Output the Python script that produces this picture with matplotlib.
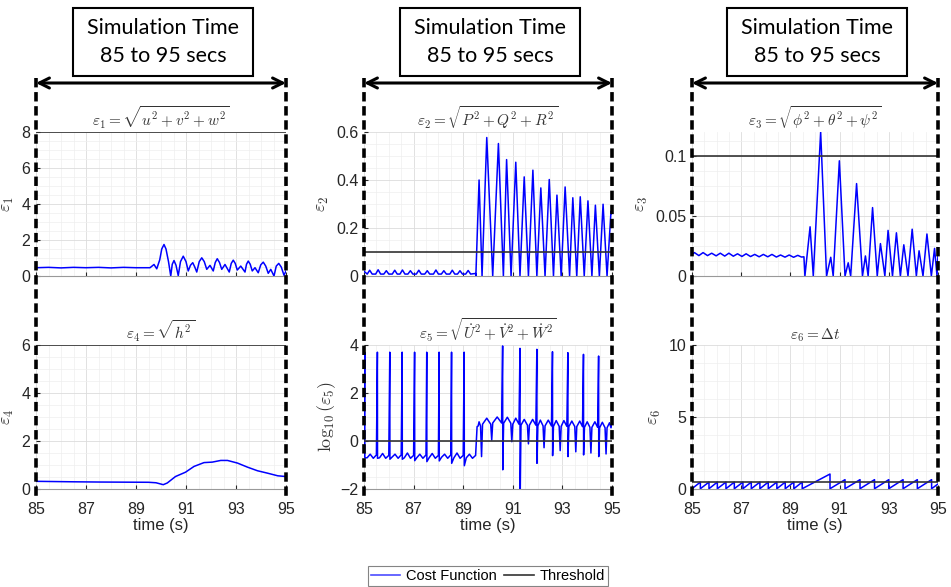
import numpy as np
import matplotlib
matplotlib.use("Agg")
import matplotlib.pyplot as plt
from matplotlib.lines import Line2D
from matplotlib.patches import Rectangle
from matplotlib.ticker import AutoMinorLocator

plt.rcParams['font.family'] = ['Liberation Sans', 'DejaVu Sans']
plt.rcParams['mathtext.fontset'] = 'cm'

# ---- data (time in s) ----
# eps1: translational error
t1 = [85.0, 85.5, 86.0, 86.5, 87.0, 87.5, 88.0, 88.5, 89.0, 89.56, 89.72, 89.83,
      89.95, 90.03, 90.12, 90.2, 90.3, 90.39, 90.45, 90.52, 90.6, 90.69, 90.78,
      90.89, 91.0, 91.09, 91.18, 91.27, 91.35, 91.43, 91.53, 91.63, 91.73, 91.83,
      91.96, 92.09, 92.17, 92.25, 92.34, 92.43, 92.56, 92.73, 92.81, 92.89, 92.97,
      93.05, 93.19, 93.36, 93.42, 93.49, 93.57, 93.65, 93.76, 93.89, 93.99, 94.09,
      94.19, 94.29, 94.39, 94.52, 94.61, 94.71, 94.81, 94.92, 95.0]
v1 = [0.46, 0.48, 0.45, 0.48, 0.46, 0.48, 0.45, 0.48, 0.46, 0.46, 0.64, 0.40,
      0.9, 1.5, 1.75, 1.5, 0.8, 0.0, 0.65, 0.86, 0.6, 0.02, 0.8,
      1.10, 0.8, 0.28, 0.6, 0.74, 0.5, 0.22, 0.8, 1.01, 0.8, 0.37,
      0.59, 0.28, 0.75, 0.96, 0.75, 0.37, 0.64, 0.22, 0.7, 0.88, 0.7,
      0.33, 0.55, 0.22, 0.65, 0.83, 0.65, 0.28, 0.46, 0.18, 0.62, 0.77,
      0.55, 0.15, 0.37, 0.0, 0.55, 0.70, 0.5, 0.04, 0.28]

# eps2: rotational rate error
bump2_t = [85.23, 85.57, 85.90, 86.24, 86.55, 86.87, 87.21, 87.55, 87.90, 88.22,
           88.56, 88.87, 89.20]
bump2_v = [0.024, 0.026, 0.022, 0.024, 0.025, 0.022, 0.024, 0.022, 0.025, 0.022,
           0.024, 0.022, 0.023]
zero2_t = [89.51, 89.76, 90.19, 90.62, 90.93, 91.29, 91.63, 91.97, 92.30, 92.64,
           92.95, 93.29, 93.58, 93.88, 94.19, 94.49, 94.80]
peak2_t = [89.64, 89.95, 90.42, 90.75, 91.12, 91.46, 91.81, 92.13, 92.47, 92.78,
           93.11, 93.42, 93.72, 94.03, 94.33, 94.64, 94.96]
peak2_v = [0.40, 0.577, 0.552, 0.485, 0.474, 0.413, 0.441, 0.367, 0.402, 0.337,
           0.371, 0.326, 0.330, 0.313, 0.295, 0.299, 0.270]

# eps3: attitude error
wave3_t = [85.0, 85.1, 85.28, 85.45, 85.63, 85.8, 85.98, 86.15, 86.33, 86.5, 86.68,
           86.85, 87.03, 87.2, 87.38, 87.55, 87.73, 87.9, 88.08, 88.25, 88.43,
           88.6, 88.78, 88.95, 89.13, 89.3, 89.45, 89.55]
wave3_v = [0.018, 0.0195, 0.017, 0.0195, 0.017, 0.019, 0.0168, 0.019, 0.0166, 0.019,
           0.0165, 0.0185, 0.0163, 0.0185, 0.0162, 0.018, 0.016, 0.018, 0.016, 0.018,
           0.0158, 0.0175, 0.0157, 0.0175, 0.0156, 0.0172, 0.0158, 0.016]
zero3_t = [89.59, 89.93, 90.47, 90.74, 91.22, 91.45, 91.93, 92.16, 92.53, 92.84,
           93.15, 93.47, 93.78, 94.12, 94.39, 94.73, 94.96]
peak3_t = [89.80, 90.23, 90.64, 90.99, 91.35, 91.69, 92.05, 92.34, 92.66, 92.97,
           93.31, 93.61, 93.95, 94.23, 94.55, 94.86]
peak3_v = [0.041, 0.120, 0.0156, 0.096, 0.011, 0.077, 0.0167, 0.057, 0.027, 0.038,
           0.036, 0.026, 0.039, 0.021, 0.035, 0.023]

# eps4: altitude error
t4 = [85.0, 86.5, 87.57, 88.5, 89.5, 89.8, 90.09, 90.25, 90.58, 90.98, 91.32,
      91.72, 92.05, 92.39, 92.66, 93.06, 93.46, 93.86, 94.26, 94.67, 95.0]
v4 = [0.32, 0.30, 0.29, 0.285, 0.28, 0.26, 0.18, 0.25, 0.52, 0.70, 0.94,
      1.10, 1.12, 1.19, 1.19, 1.08, 0.91, 0.76, 0.66, 0.55, 0.52]

# eps5: log10 of acceleration error
ripple5_t = np.arange(85.0, 89.55, 0.125)
ripple5_v = [-0.60, -0.70, -0.55, -0.72, -0.58, -0.70, -0.52, -0.72, -0.60, -0.68,
             -0.55, -0.72, -0.58, -0.70, -0.50, -0.72, -0.60, -0.70, -0.55, -0.72,
             -0.58, -0.70, -0.52, -0.72, -0.60, -0.68, -0.55, -0.72, -0.58, -0.70,
             -0.50, -0.72, -0.60, -0.70, -0.55, -0.72, -0.60]
spike5_t = [85.03, 85.54, 86.04, 86.54, 87.04, 87.53, 88.03, 88.53, 89.04]
spike5_hi = [3.70, 3.70, 3.70, 3.70, 3.70, 3.70, 3.70, 3.70, 3.70]
spike5_lo = [-0.70, -0.72, -0.76, -0.76, -0.82, -0.86, -0.83, -0.93, -1.03]
sep5_t = [89.74, 90.15, 90.59, 90.96, 91.29, 91.63, 91.97, 92.26, 92.60, 92.91,
          93.22, 93.54, 93.85, 94.15, 94.46, 94.76]
sep5_lo = [-0.65, 0.04, -1.2, -0.03, -2.6, -0.12, -0.93, -0.28, -0.61, -0.40,
           -0.65, -0.45, -0.58, -0.50, -0.65, -0.54]
sep5_hi = [np.nan, np.nan, 3.96, np.nan, 3.86, np.nan, 3.82, np.nan, 3.72, np.nan,
           3.68, np.nan, 3.61, np.nan, 3.54, np.nan]
arch5_t = [89.64, 89.95, 90.37, 90.78, 91.12, 91.46, 91.80, 92.11, 92.43, 92.75,
           93.06, 93.38, 93.70, 94.00, 94.31, 94.61, 94.90]
arch5_v = [0.80, 0.95, 1.00, 0.99, 0.95, 0.90, 0.90, 0.87, 0.87, 0.85,
           0.85, 0.83, 0.83, 0.80, 0.80, 0.78, 0.76]
arch5_sh = [0.62, 0.70, 0.75, 0.74, 0.70, 0.66, 0.66, 0.63, 0.63, 0.61,
            0.61, 0.60, 0.60, 0.57, 0.57, 0.55, 0.55]

# eps6: time step (sawtooth, drop times and heights)
saw6_t = [85.34, 85.69, 86.03, 86.38, 86.72, 87.07, 87.41, 87.76, 88.10, 88.45,
          88.79, 89.14, 89.48, 90.61, 91.22, 91.83, 92.42, 93.00, 93.58, 94.16, 94.74]
saw6_h = [0.48, 0.48, 0.48, 0.48, 0.48, 0.48, 0.48, 0.48, 0.48, 0.48,
          0.48, 0.48, 0.48, 1.04, 0.65, 0.65, 0.65, 0.65, 0.65, 0.65, 0.65]

thresholds = [8, 0.1, 0.1, 6, 0, 0.5]
titles = [r'$\varepsilon_1 = \sqrt{u^2 + v^2 + w^2}$',
          r'$\varepsilon_2 = \sqrt{P^2 + Q^2 + R^2}$',
          r'$\varepsilon_3 = \sqrt{\phi^2 + \theta^2 + \psi^2}$',
          r'$\varepsilon_4 = \sqrt{h^2}$',
          r'$\varepsilon_5 = \sqrt{\dot{U}^2 + \dot{V}^2 + \dot{W}^2}$',
          r'$\varepsilon_6 = \Delta t$']
ylabels = [r'$\varepsilon_1$', r'$\varepsilon_2$', r'$\varepsilon_3$',
           r'$\varepsilon_4$', r'$\log_{10}(\varepsilon_5)$', r'$\varepsilon_6$']
ylims = [(0, 8), (0, 0.6), (0, 0.12), (0, 6), (-2, 4), (0, 10)]
yticks = [[0, 2, 4, 6, 8], [0, 0.2, 0.4, 0.6], [0, 0.05, 0.1],
          [0, 2, 4, 6], [-2, 0, 2, 4], [0, 5, 10]]
ytick_labels = [None, ['0', '0.2', '0.4', '0.6'], ['0', '0.05', '0.1'],
                None, None, None]
xticks = [85, 87, 89, 91, 93, 95]


# ---- assemble line vertices ----
def merge(*parts):
    pts = []
    for ts, vs in parts:
        pts += list(zip(ts, vs))
    pts.sort(key=lambda p: p[0])
    return [p[0] for p in pts], [p[1] for p in pts]

# eps2
base_t, base_v = [85.0], [0.02]
for tb, vb in zip(bump2_t, bump2_v):
    base_t += [tb - 0.1, tb, tb + 0.1]
    base_v += [0.008, vb, 0.008]
base_t += [89.45, 89.5]
base_v += [0.01, 0.01]
t2, v2 = merge((base_t, base_v), (zero2_t, [0.0] * len(zero2_t)),
               (peak2_t, peak2_v), ([95.0], [0.26]))

# eps3
t3, v3 = merge((wave3_t, wave3_v), (zero3_t, [0.0] * len(zero3_t)),
               (peak3_t, peak3_v), ([95.0], [0.018]))

# eps5
t5, v5 = merge((ripple5_t, ripple5_v), (spike5_t, spike5_hi),
               ([s + 0.005 for s in spike5_t], spike5_lo))
t5 += [89.56]
v5 += [0.6]
bounds = [89.56] + sep5_t + [95.0]
for i, a in enumerate(arch5_t):
    lo_b, hi_b = bounds[i], bounds[i + 1]
    t5 += [lo_b + 0.04, a, hi_b - 0.04]
    v5 += [arch5_sh[i], arch5_v[i], arch5_sh[i]]
    if i < len(sep5_t):
        if np.isnan(sep5_hi[i]):
            t5.append(sep5_t[i]); v5.append(sep5_lo[i])
        else:
            t5 += [sep5_t[i], sep5_t[i] + 0.005]
            v5 += [sep5_hi[i], sep5_lo[i]]
t5.append(95.0); v5.append(0.72)

# eps6
t6, v6 = [85.0], [0.02]
for td, h in zip(saw6_t, saw6_h):
    t6 += [td, td]
    v6 += [h, 0.02]
t6.append(95.0); v6.append(0.35)

series = [(t1, v1), (t2, v2), (t3, v3), (t4, v4), (t5, v5), (t6, v6)]

# ---- figure ----
W, H = 951, 587
fig = plt.figure(figsize=(W / 100, H / 100), dpi=100)

cols = [(36, 286), (364, 612), (692, 938)]
rows = [(132, 276), (345, 489)]

blue = '#0000ff'
thr_col = '#333333'
for r, (ytop, ybot) in enumerate(rows):
    for c, (x0, x1) in enumerate(cols):
        k = r * 3 + c
        ax = fig.add_axes([x0 / W, 1 - ybot / H, (x1 - x0) / W, (ybot - ytop) / H])
        t, v = series[k]
        ax.plot(t, v, color=blue, lw=1.1, zorder=3)
        ax.axhline(thresholds[k], color=thr_col, lw=1.2, zorder=4)
        ax.set_xlim(85, 95)
        ax.set_ylim(*ylims[k])
        ax.set_xticks(xticks)
        ax.set_yticks(yticks[k])
        if ytick_labels[k] is not None:
            ax.set_yticklabels(ytick_labels[k])
        ax.xaxis.set_minor_locator(AutoMinorLocator(4))
        ax.yaxis.set_minor_locator(AutoMinorLocator(4))
        ax.grid(which='major', color='#dcdcdc', lw=0.6)
        ax.grid(which='minor', color='#eeeeee', lw=0.5)
        ax.set_axisbelow(True)
        for s in ['top', 'right', 'left']:
            ax.spines[s].set_visible(False)
        ax.spines['bottom'].set_color('#999999')
        ax.tick_params(which='both', direction='in', length=3, colors='#262626',
                       labelsize=11.5)
        ax.tick_params(axis='y', pad=4)
        ax.tick_params(axis='x', pad=9)
        ax.tick_params(which='minor', length=0)
        if r == 0:
            ax.tick_params(axis='x', labelbottom=False)
        else:
            ax.set_xlabel('time (s)', fontsize=12, color='#262626', labelpad=1)
        ax.set_ylabel(ylabels[k], fontsize=13, color='#333333',
                      labelpad=4 if k != 4 else 2)
        ax.set_title(titles[k], fontsize=11, color='#333333', pad=4)

# dashed time-window markers, arrows and boxes
for x0, x1 in cols:
    for x in (x0, x1):
        fig.add_artist(Line2D([x / W, x / W], [1 - 78 / H, 1 - 498 / H],
                              transform=fig.transFigure, color='black', lw=2.6,
                              linestyle=(0, (2.6, 1.3)), zorder=10))
    fig.add_artist(plt.Annotation('', xy=(x1 / W, 1 - 83 / H),
                                  xytext=(x0 / W, 1 - 83 / H),
                                  xycoords='figure fraction', textcoords='figure fraction',
                                  arrowprops=dict(arrowstyle='<->', lw=2.2, color='black',
                                                  shrinkA=0, shrinkB=0,
                                                  mutation_scale=18)))
    cx = (x0 + x1) / 2 + 2
    bw, bh = 180, 68
    fig.add_artist(Rectangle(((cx - bw / 2) / W, 1 - 76 / H), bw / W, bh / H,
                             transform=fig.transFigure, fill=False,
                             edgecolor='black', lw=1.5))
    fig.text(cx / W, 1 - 28 / H, 'Simulation Time', ha='center', va='center',
             fontsize=15.5, family=['Lato', 'DejaVu Sans'])
    fig.text(cx / W, 1 - 56 / H, '85 to 95 secs', ha='center', va='center',
             fontsize=15.5, family=['Lato', 'DejaVu Sans'])

handles = [Line2D([], [], color='#4d4dff', lw=1.2), Line2D([], [], color=thr_col, lw=1.2)]
leg = fig.legend(handles, ['Cost Function', 'Threshold'], loc='center',
                 bbox_to_anchor=(488 / W, 1 - 576 / H), ncol=2, fontsize=10.5,
                 frameon=True, fancybox=False, edgecolor='#666666',
                 handlelength=2.0, handletextpad=0.4, columnspacing=0.5,
                 borderpad=0.2)
leg.get_frame().set_linewidth(0.8)

fig.savefig('out.png', dpi=100)
